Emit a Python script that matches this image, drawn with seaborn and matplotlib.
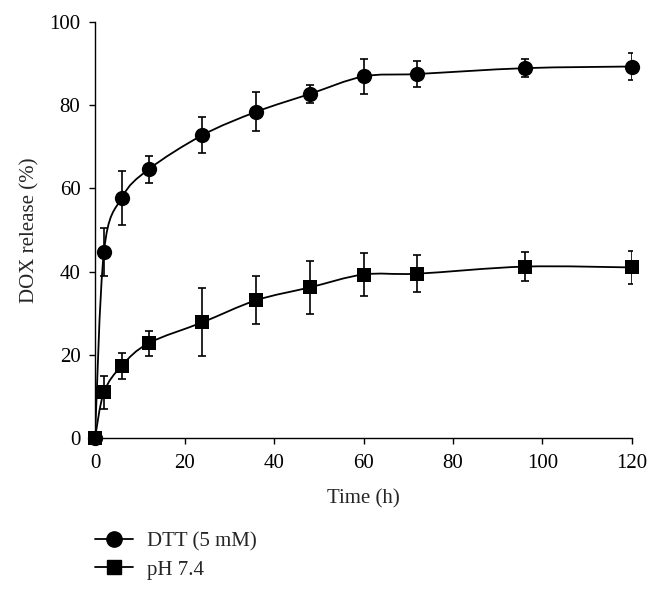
import numpy as np
import pandas as pd
import matplotlib
matplotlib.use("Agg")
import matplotlib.pyplot as plt
from matplotlib.path import Path
from matplotlib.patches import PathPatch
from matplotlib.lines import Line2D
import seaborn as sns

# Données
time_h = [0, 2, 6, 12, 24, 36, 48, 60, 72, 96, 120]
dtt_release = [0, 44.8, 57.8, 64.6, 72.8, 78.4, 82.7, 86.9, 87.5, 88.9, 89.3]
dtt_err = [0, 5.8, 6.5, 3.2, 4.3, 4.7, 2.2, 4.2, 3.1, 2.1, 3.2]
ph_release = [0, 11.0, 17.4, 22.8, 27.8, 33.1, 36.2, 39.3, 39.5, 41.2, 41.0]
ph_err = [0, 4.0, 3.1, 3.0, 8.2, 5.75, 6.3, 5.25, 4.5, 3.4, 4.0]
labels = ["DTT (5 mM)", "pH 7.4"]

sns.set_style("ticks")
plt.rcParams["font.family"] = ["Liberation Serif", "DejaVu Serif"]


# Courbe lissée (style Excel) passant par les points
def smooth_path(x, y, t=1 / 6):
    x = np.asarray(x, float)
    y = np.asarray(y, float)
    n = len(x)
    verts = [(x[0], y[0])]
    codes = [Path.MOVETO]
    for i in range(n - 1):
        x0, y0 = (x[i - 1], y[i - 1]) if i > 0 else (x[i], y[i])
        x3, y3 = (x[i + 2], y[i + 2]) if i + 2 < n else (x[i + 1], y[i + 1])
        c1 = (x[i] + (x[i + 1] - x0) * t, y[i] + (y[i + 1] - y0) * t)
        c2 = (x[i + 1] - (x3 - x[i]) * t, y[i + 1] - (y3 - y[i]) * t)
        verts += [c1, c2, (x[i + 1], y[i + 1])]
        codes += [Path.CURVE4] * 3
    return Path(verts, codes)


fig = plt.figure(figsize=(6.61, 5.92), dpi=100)
W, H = 661, 592
ax = fig.add_axes([95 / W, 1 - 438 / H, (632 - 95) / W, (438 - 22) / H])

series = [
    (dtt_release, dtt_err, "o", 11),
    (ph_release, ph_err, "s", 10),
]
for (vals, err, mk, ms), lab in zip(series, labels):
    ax.add_patch(PathPatch(smooth_path(time_h, vals), fill=False,
                           edgecolor="black", lw=1.3, zorder=2))
    ax.errorbar(time_h, vals, yerr=err, fmt="none", ecolor="black",
                elinewidth=1.2, capsize=3, capthick=1.2, zorder=3)
    df = pd.DataFrame({"t": time_h, "v": vals})
    sns.scatterplot(data=df, x="t", y="v", marker=mk, s=ms ** 2,
                    color="black", edgecolor="black", linewidth=0,
                    ax=ax, zorder=4, clip_on=False)

ax.set_xlim(0, 120)
ax.set_ylim(0, 100)
ax.set_xticks(range(0, 121, 20))
ax.set_yticks(range(0, 101, 20))
sns.despine(ax=ax)
for sp in ax.spines.values():
    sp.set_linewidth(1.0)
    sp.set_color("black")
ax.tick_params(direction="out", length=4.5, width=1.0, labelsize=15,
               colors="black")
ax.tick_params(axis="y", pad=6)
ax.tick_params(axis="x", pad=7)
ax.set_xlabel("Time (h)", fontsize=15, labelpad=12)
ax.set_ylabel("DOX release (%)", fontsize=15, labelpad=7)

handles = [
    Line2D([], [], color="black", lw=1.3, marker="o", markersize=11),
    Line2D([], [], color="black", lw=1.3, marker="s", markersize=10),
]
fig.legend(handles, labels, loc="upper left",
           bbox_to_anchor=(95 / W, 1 - 532 / H),
           frameon=False, fontsize=15, handlelength=1.8, handletextpad=0.7,
           labelspacing=0.4, borderpad=0, borderaxespad=0)

fig.savefig("out.png", dpi=100)
